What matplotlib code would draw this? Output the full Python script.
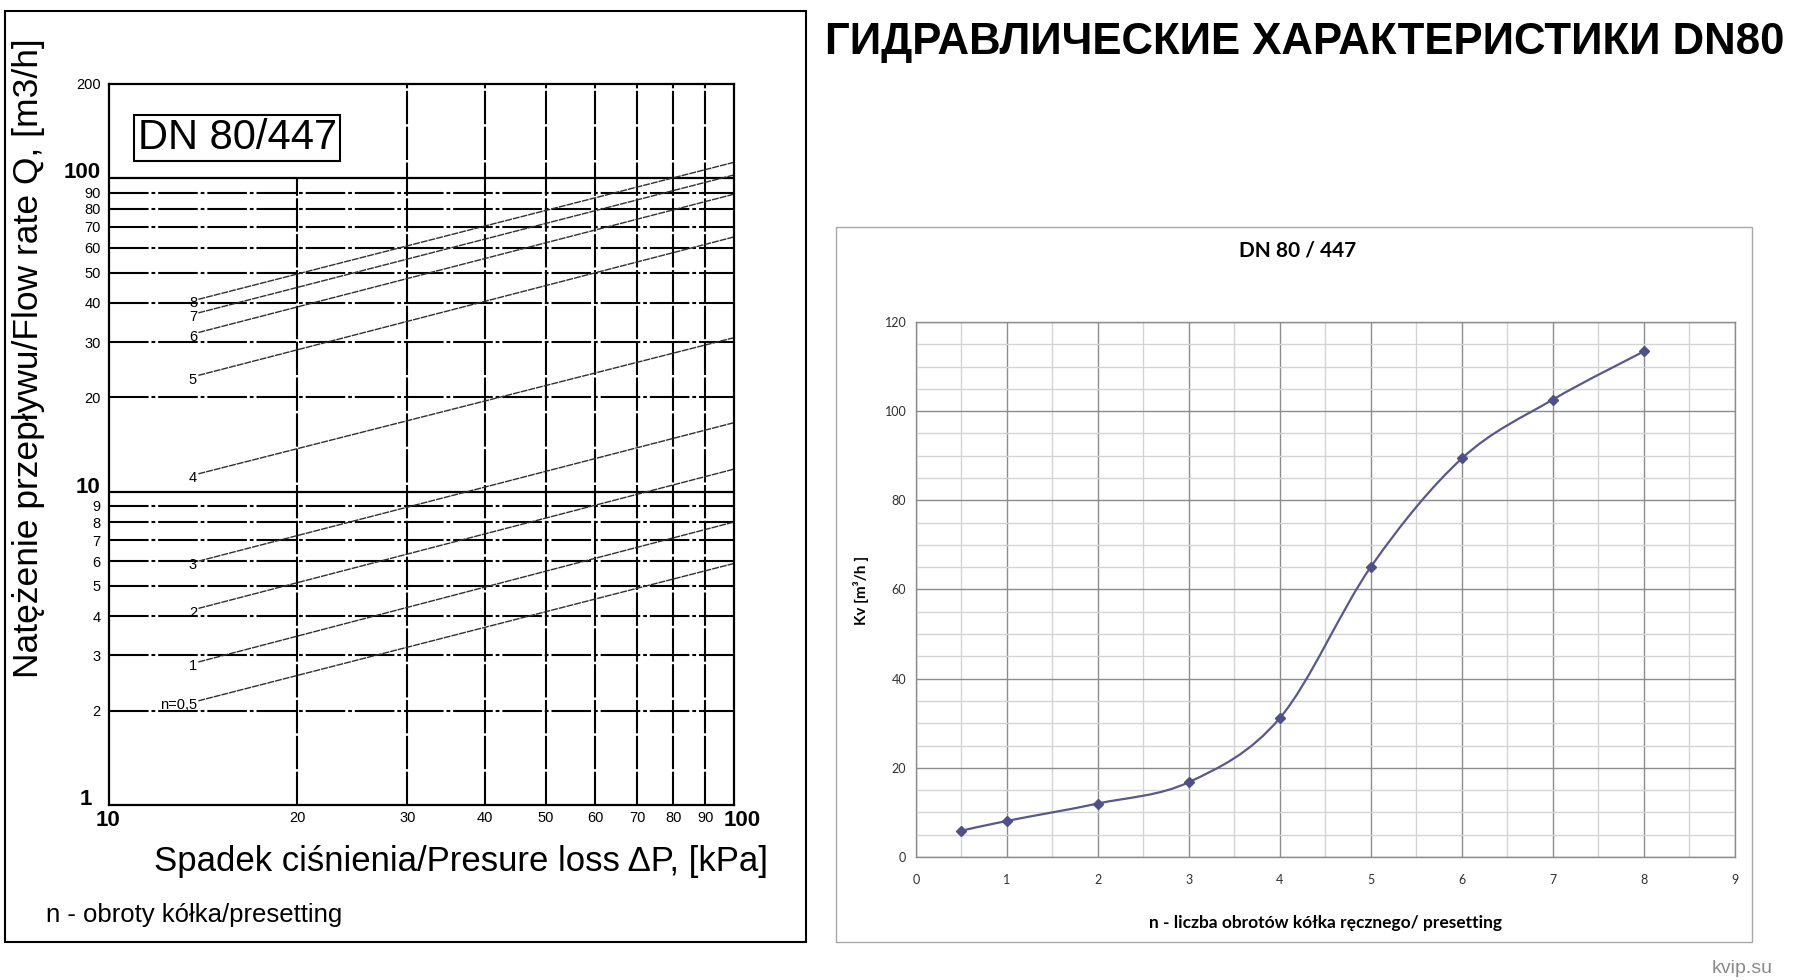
import numpy as np
import matplotlib
matplotlib.use("Agg")
from matplotlib import pyplot as plt
from matplotlib.path import Path
from matplotlib.patches import PathPatch, Rectangle
from matplotlib.ticker import NullLocator, MultipleLocator

plt.rcParams['font.family'] = ['Liberation Sans', 'DejaVu Sans']

# Data ---------------------------------------------------------------------------------
# right chart : Kv vs presetting
presetting = [0.5, 1, 2, 3, 4, 5, 6, 7, 8]
kv = [5.9, 8.1, 12.0, 16.8, 31.2, 65.1, 89.4, 102.6, 113.4]

# left chart : flow rate lines, read at start (dp_start) and end (dp_end) of each line
curve_labels = ['n=0,5', '1', '2', '3', '4', '5', '6', '7', '8']
dp_start = 13.9   # kPa
dp_end = 100      # kPa
q_start = [2.15, 2.86, 4.24, 6.0, 11.4, 23.5, 32.2, 37.2, 41.1]
q_end = [5.9, 8.0, 11.8, 16.6, 31.0, 65.0, 89.0, 102.5, 112.5]

dp_ticks = [10, 20, 30, 40, 50, 60, 70, 80, 90, 100]
dp_ticklabels = ['10', '20', '30', '40', '50', '60', '70', '80', '90', '100']
q_ticks = [1, 2, 3, 4, 5, 6, 7, 8, 9, 10, 20, 30, 40, 50, 60, 70, 80, 90, 100, 200]
q_ticklabels = ['1', '2', '3', '4', '5', '6', '7', '8', '9', '10',
                '20', '30', '40', '50', '60', '70', '80', '90', '100', '200']
bold_labels = ['1', '10', '100']
# --------------------------------------------------------------------------------------

fig = plt.figure(figsize=(17.96, 9.8), dpi=100)

# frames around both panels
fig.add_artist(Rectangle((0.0028, 0.0388), 0.446, 0.95, transform=fig.transFigure,
                         fill=False, edgecolor='black', lw=1.5))
fig.add_artist(Rectangle((0.4655, 0.0388), 0.510, 0.7296, transform=fig.transFigure,
                         fill=False, edgecolor='#a8a8a8', lw=1.0))

# Left chart - log/log flow rate --------------------------------------------------------
ax1 = fig.add_axes([0.0607, 0.1786, 0.348, 0.7357])
ax1.set_xscale('log')
ax1.set_yscale('log')
ax1.set_xlim(10, 100)
ax1.set_ylim(1, 200)
ax1.set_xticks(dp_ticks)
ax1.set_xticklabels(['' if t in bold_labels else t for t in dp_ticklabels])
ax1.set_yticks(q_ticks)
ax1.set_yticklabels(['' if t in bold_labels else t for t in q_ticklabels])
ax1.xaxis.set_minor_locator(NullLocator())
ax1.yaxis.set_minor_locator(NullLocator())
ax1.tick_params(length=0, labelsize=10.5)
ax1.tick_params(axis='x', pad=4)
ax1.tick_params(axis='y', pad=6)
for sp in ax1.spines.values():
    sp.set_linewidth(1.6)

# the big bold decade labels sit a bit apart from the small ones
bold_kw = dict(textcoords='offset points', fontsize=16, fontweight='bold', annotation_clip=False)
ax1.annotate('100', (10, 100), xytext=(-6, 0), ha='right', va='baseline', **bold_kw)
ax1.annotate('10', (10, 10), xytext=(-6, 3), ha='right', va='center', **bold_kw)
ax1.annotate('1', (10, 1), xytext=(-12, 4), ha='right', va='center', **bold_kw)
ax1.annotate('10', (10, 1), xytext=(-1, -11), ha='center', va='center', **bold_kw)
ax1.annotate('100', (100, 1), xytext=(6, -11), ha='center', va='center', **bold_kw)

dashdot = (0, (19, 1.4, 1.8, 1.4))
for q in q_ticks:
    if q in (1, 200):
        continue
    if q in (10, 100):
        ax1.axhline(q, color='black', lw=1.6)
    else:
        ax1.axhline(q, color='black', lw=1.5, linestyle=dashdot)
for dp in dp_ticks[1:-1]:
    top = 100 if dp == 20 else 200
    ax1.plot([dp, dp], [1, top], color='black', lw=1.5, linestyle=(0, (16, 1.2)))

for lab, q0, q1 in zip(curve_labels, q_start, q_end):
    ax1.plot([dp_start, dp_end], [q0, q1], color='#303030', lw=1.0, linestyle=(0, (5, 0.7)))
    ax1.annotate(lab, (dp_start, q0), xytext=(-1, -3), textcoords='offset points',
                 ha='right', va='center', fontsize=10.5)

ax1.text(0.046, 0.925, 'DN 80/447', transform=ax1.transAxes, fontsize=30, va='center',
         bbox=dict(boxstyle='square,pad=0.08', facecolor='white', edgecolor='black', lw=1.5))

fig.text(0.016, 0.6347, 'Natężenie przepływu/Flow rate Q, [m3/h]', rotation=90,
         ha='center', va='center', fontsize=25.5)
fig.text(0.2565, 0.1214, 'Spadek ciśnienia/Presure loss ΔP, [kPa]',
         ha='center', va='center', fontsize=25)
fig.text(0.0256, 0.066, 'n - obroty kółka/presetting', ha='left', va='center', fontsize=18.5)
# --------------------------------------------------------------------------------------

# Right chart - Kv vs presetting --------------------------------------------------------
ax2 = fig.add_axes([0.510, 0.1255, 0.456, 0.546])
ax2.set_xlim(0, 9)
ax2.set_ylim(0, 120)
ax2.set_xticks(range(0, 10))
ax2.set_yticks(range(0, 121, 20))
ax2.xaxis.set_minor_locator(MultipleLocator(0.5))
ax2.yaxis.set_minor_locator(MultipleLocator(5))
ax2.grid(which='minor', color='#d4d4d4', lw=1.0)
ax2.grid(which='major', color='#8c8c8c', lw=1.0)
ax2.set_axisbelow(True)
ax2.tick_params(which='both', length=0)
ax2.tick_params(axis='x', pad=12, labelsize=9, labelcolor='#303030')
ax2.tick_params(axis='y', pad=7, labelsize=9, labelcolor='#303030')
for lab in ax2.get_xticklabels() + ax2.get_yticklabels():
    lab.set_family(['Lato', 'DejaVu Sans'])
for sp in ax2.spines.values():
    sp.set_color('#8c8c8c')
    sp.set_linewidth(1.0)

# smoothed line like the spreadsheet one (catmull-rom bezier through the points)
pts = np.column_stack([presetting, kv])
verts = [pts[0]]
codes = [Path.MOVETO]
for i in range(len(pts) - 1):
    p0 = pts[i - 1] if i > 0 else pts[i]
    p1 = pts[i]
    p2 = pts[i + 1]
    p3 = pts[i + 2] if i + 2 < len(pts) else pts[i + 1]
    verts += [p1 + (p2 - p0) / 6, p2 - (p3 - p1) / 6, p2]
    codes += [Path.CURVE4] * 3
ax2.add_patch(PathPatch(Path(verts, codes), fill=False, edgecolor='#58588f', lw=1.6))
ax2.plot(presetting, kv, linestyle='none', marker='D', ms=5.5, color='#4f4f8a')

fig.text(0.7227, 0.7439, 'DN 80 / 447', ha='center', va='center', fontsize=15,
         fontweight='bold', family=['Lato', 'DejaVu Sans'])
fig.text(0.4795, 0.398, 'Kv [m³/h ]', rotation=90, ha='center', va='center', fontsize=11,
         fontweight='bold', family=['Lato', 'DejaVu Sans'])
fig.text(0.7378, 0.0582, 'n - liczba obrotów kółka ręcznego/ presetting', ha='center',
         va='center', fontsize=12.5, fontweight='bold', family=['Lato', 'DejaVu Sans'])
# --------------------------------------------------------------------------------------

fig.text(0.7265, 0.957, 'ГИДРАВЛИЧЕСКИЕ ХАРАКТЕРИСТИКИ DN80', ha='center', va='center',
         fontsize=31.5, fontweight='bold')
fig.text(0.987, 0.0122, 'kvip.su', ha='right', va='center', fontsize=14, color='#8a8a8a')

fig.savefig('out.png', dpi=100)
